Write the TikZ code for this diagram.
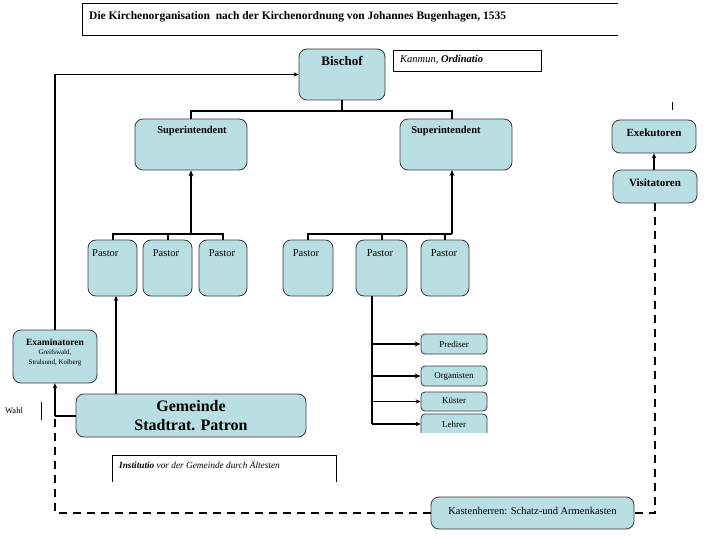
\documentclass[tikz,border=0pt]{standalone}
\usepackage{fontspec}
\setmainfont{Liberation Serif}
\usetikzlibrary{arrows.meta}
\definecolor{boxfill}{HTML}{B9DEE3}
\definecolor{boxline}{HTML}{3A3A3A}
\begin{document}
\begin{tikzpicture}[x=1pt,y=-1pt,
  box/.style={draw=boxline, fill=boxfill, rounded corners=8pt, line width=0.8pt, inner sep=0pt},
  sbox/.style={box, rounded corners=4pt},
  conn/.style={line width=2pt},
  arr/.style={line width=2pt,-{Stealth[length=6pt,width=5pt]}},
  tarr/.style={line width=1.5pt,-{Stealth[length=5pt,width=4.5pt]}},
  dsh/.style={line width=2.5pt, dash pattern=on 8pt off 6pt},
  lbl/.style={inner sep=0pt, font=\bfseries\fontsize{10.5}{12}\selectfont},
  plbl/.style={inner sep=0pt, font=\fontsize{10.5}{12}\selectfont},
  slbl/.style={inner sep=0pt, font=\fontsize{9}{10}\selectfont},
  ]
\useasboundingbox (0,0) rectangle (720,540);
\fill[white] (0,0) rectangle (720,540);

% title
\draw[line width=0.8pt] (618,3) -- (82,3) -- (82,35) -- (618,35);
\node[inner sep=0pt, anchor=west, font=\bfseries\fontsize{11.5}{13}\selectfont] (title) at (89,17)
  {Die Kirchenorganisation\ \ nach der Kirchenordnung von Johannes Bugenhagen, 1535};

% Bischof
\node[box, minimum width=86pt, minimum height=51pt] (bischof) at (342,74.5) {};
\node[lbl, font=\bfseries\fontsize{13}{14}\selectfont] (bischoft) at (342,61) {Bischof};
\draw[line width=0.8pt] (393,50) rectangle (541,71);
\node[inner sep=0pt, anchor=west, font=\itshape\fontsize{10.5}{12}\selectfont] (komm) at (400,60) {Kanmun, \textbf{Ordinatio}};

% Superintendents
\node[box, minimum width=112pt, minimum height=51pt] (supL) at (191,144.5) {};
\node[lbl] (supLt) at (192,131) {Superintendent};
\node[box, minimum width=112pt, minimum height=51pt] (supR) at (456,144.5) {};
\node[lbl] (supRt) at (446,131) {Superintendent};

% Pastors
\node[box, minimum width=49pt, minimum height=56pt] (p1) at (112.5,268) {};
\node[plbl, anchor=west] (p1t) at (92,253) {Pastor};
\node[box, minimum width=49pt, minimum height=56pt] (p2) at (167.5,268) {};
\node[plbl] (p2t) at (166,253) {Pastor};
\node[box, minimum width=48pt, minimum height=56pt] (p3) at (223,268) {};
\node[plbl] (p3t) at (222,253) {Pastor};
\node[box, minimum width=50pt, minimum height=56pt] (p4) at (308,268) {};
\node[plbl] (p4t) at (306,253) {Pastor};
\node[box, minimum width=51pt, minimum height=56pt] (p5) at (381.5,268) {};
\node[plbl] (p5t) at (380,253) {Pastor};
\node[box, minimum width=48pt, minimum height=56pt] (p6) at (445,268) {};
\node[plbl] (p6t) at (444,253) {Pastor};

% Examinatoren
\node[box, minimum width=84pt, minimum height=53pt] (exam) at (55,356.5) {};
\node[inner sep=0pt, align=center, font=\fontsize{7}{9.5}\selectfont] (examt) at (55,352)
  {{\bfseries\fontsize{9.5}{10}\selectfont Examinatoren}\\Greifswald,\\Stralsund, Kolberg};

% Gemeinde
\node[box, minimum width=230pt, minimum height=43pt] (gem) at (191,415.5) {};
\node[inner sep=0pt, align=center, font=\bfseries\fontsize{16}{19}\selectfont] (gemt) at (191,416)
  {Gemeinde\\Stadtrat. Patron};

% Wahl
\node[inner sep=0pt, font=\fontsize{8.5}{10}\selectfont] (wahl) at (14,411) {Wahl};
\draw[line width=0.6pt] (41,402) -- (41,420);

% Institutio
\draw[line width=0.8pt] (112,482) -- (112,455) -- (336,455) -- (336,482);
\node[inner sep=0pt, anchor=west, font=\itshape\fontsize{9.3}{11}\selectfont] (inst) at (119,465)
  {\textbf{Institutio} vor der Gemeinde durch Ältesten};

% small boxes
\node[sbox, minimum width=66pt, minimum height=20pt] (pred) at (454,344) {};
\node[slbl] (predt) at (454,344) {Prediser};
\node[sbox, minimum width=66pt, minimum height=20pt] (org) at (454,376) {};
\node[slbl] (orgt) at (454,376) {Organisten};
\node[sbox, minimum width=66pt, minimum height=19pt] (kue) at (454,401.5) {};
\node[slbl] (kuet) at (454,401) {Küster};
\node[sbox, minimum width=66pt, minimum height=24pt] (leh) at (454,426) {};
\fill[white] (419,433) rectangle (490,442);
\node[slbl] (leht) at (454,424) {Lehrer};

% Exekutoren / Visitatoren
\node[box, minimum width=84pt, minimum height=33pt] (exek) at (654,136.5) {};
\node[lbl, font=\bfseries\fontsize{11}{12}\selectfont] (exekt) at (654,133) {Exekutoren};
\node[box, minimum width=84pt, minimum height=33pt] (vis) at (655,186.5) {};
\node[lbl, font=\bfseries\fontsize{11}{12}\selectfont] (vist) at (655,183) {Visitatoren};
\draw[line width=0.8pt] (672,102) -- (672,110);

% Kastenherren
\node[box, minimum width=203pt, minimum height=32pt] (kast) at (532.5,513) {};
\node[inner sep=0pt, font=\fontsize{10.5}{12}\selectfont] (kastt) at (532.5,511) {Kastenherren: Schatz-und Armenkasten};

% connectors
\coordinate (bj) at (342,111);
\draw[line width=1.5pt] (bischof.south) -- (bj);
\draw[line width=1.5pt] (supL.north) -- (191,111) -- (452,111) -- (452,119);

\draw[tarr] (exam.north) |- (bischof.west);

\coordinate (lj) at (191,234);
\draw[conn] (p1.north) -- (p1.north |- lj) -- (p3.north |- lj) -- (p3.north);
\draw[conn] (p2.north) -- (p2.north |- lj);
\draw[arr] (lj) -- (supL.south);

\coordinate (rj) at (452,234);
\draw[conn] (p4.north) -- (p4.north |- rj) -- (rj);
\draw[conn] (p5.north) -- (p5.north |- rj);
\draw[conn] (p6.north) -- (p6.north |- rj);
\draw[arr] (rj) -- (452,170);

\draw[tarr] (116,394) -- (116,296);

\coordinate (pv) at (372,296);
\draw[conn] (pv) -- (372,424);
\draw[arr] (pv |- pred.west) -- (pred.west);
\draw[arr] (pv |- org.west) -- (org.west);
\draw[tarr] (pv |- kue.west) -- (kue.west);
\draw[tarr] (372,424) -- (leh.west |- 0,424);

\draw[tarr] (exek.south |- vis.north) -- (exek.south);

\coordinate (wj) at (55,416);
\draw[dsh] (vis.south) |- (kast.east);
\draw[dsh] (kast.west) -| (wj);
\draw[tarr] (wj) -- (exam.south);
\draw[line width=1.5pt] (wj) -- (gem.west |- wj);
\end{tikzpicture}
\end{document}
